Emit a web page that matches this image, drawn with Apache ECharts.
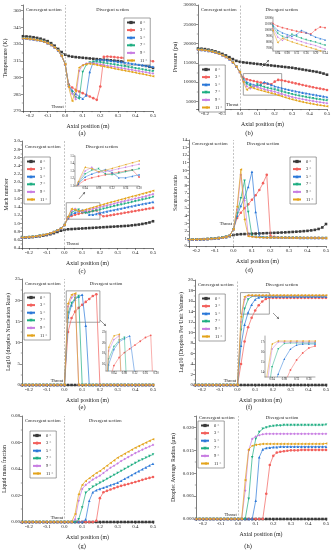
<!DOCTYPE html>
<html><head><meta charset="utf-8">
<script src="https://cdn.jsdelivr.net/npm/echarts@6/dist/echarts.min.js"></script>
<style>html,body{margin:0;padding:0;background:#fff}#c{width:333px;height:550px}</style>
</head><body><div id="c"></div>
<script>
const axialPosition = [-0.24,-0.22,-0.20,-0.18,-0.16,-0.14,-0.12,-0.10,-0.08,-0.06,-0.04,-0.02,0.00,0.02,0.04,0.06,0.08,0.10,0.12,0.14,0.16,0.18,0.20,0.22,0.24,0.26,0.28,0.30,0.32,0.34,0.36,0.38,0.40,0.42,0.44,0.46,0.48,0.50];
const seriesNames = ['0 °','3 °','5 °','7 °','9 °','11 °'];

// (a) Temperature (K)
const temperature0 = [337.0,336.8,336.5,336.1,335.5,334.8,333.8,332.6,330.8,328.5,325.6,322.8,320.5,319.3,318.7,318.3,318.0,317.7,317.4,317.1,316.8,316.5,316.2,316.0,315.7,315.4,315.1,314.8,314.4,314.0,313.5,313.0,312.5,311.9,311.2,310.4,309.6,308.6];
const temperature3 = [335.0,334.9,334.6,334.2,333.6,332.9,332.0,330.8,329.2,327.0,324.2,319.5,312.0,294.0,291.0,289.0,287.5,286.0,284.5,283.0,281.5,280.0,292.0,318.5,318.8,318.6,318.3,318.0,317.7,317.4,317.1,316.8,316.5,316.1,315.8,315.4,315.0,314.6];
const temperature5 = [335.0,334.9,334.6,334.2,333.6,332.9,332.0,330.8,329.2,327.0,324.2,319.5,312.0,293.0,288.5,285.5,283.0,281.0,284.0,305.0,314.0,315.5,316.0,315.8,315.4,315.0,314.6,314.2,313.8,313.4,313.0,312.5,312.1,311.6,311.1,310.6,310.1,309.6];
const temperature7 = [335.0,334.9,334.6,334.2,333.6,332.9,332.0,330.8,329.2,327.0,324.2,319.5,312.0,292.5,287.0,282.5,281.0,305.0,311.5,313.5,314.0,314.0,313.6,313.1,312.6,312.1,311.6,311.1,310.5,310.0,309.4,308.9,308.3,307.8,307.2,306.6,306.1,305.5];
const temperature9 = [335.0,334.9,334.6,334.2,333.6,332.9,332.0,330.8,329.2,327.0,324.2,319.5,312.0,292.0,285.5,280.5,306.0,311.0,312.5,313.0,312.8,312.3,311.8,311.2,310.6,310.1,309.6,309.0,308.5,308.0,307.4,306.9,306.3,305.8,305.2,304.7,304.1,303.6];
const temperature11 = [335.0,334.9,334.6,334.2,333.6,332.9,332.0,330.8,329.2,327.0,324.2,319.5,312.0,291.5,279.0,288.0,309.0,311.0,312.0,312.3,312.0,311.3,310.6,310.0,309.3,308.7,308.0,307.4,306.8,306.2,305.6,305.0,304.4,303.7,303.1,302.5,301.8,301.2];

// (b) Pressure (pa)
const pressure0 = [18700,18650,18550,18400,18200,17950,17650,17300,16900,16450,15950,15500,15250,15100,15000,14900,14800,14700,14600,14500,14400,14300,14200,14100,14000,13900,13800,13700,13550,13400,13250,13100,12950,12800,12650,12450,12200,11900];
const pressure3 = [18400,18350,18250,18100,17900,17650,17350,16950,16500,15900,15100,14000,12600,11100,10700,10450,10250,10050,9850,9700,9550,9400,10100,10550,10450,10250,10050,9850,9650,9450,9250,9050,8850,8650,8450,8300,8120,7950];
const pressure5 = [18400,18350,18250,18100,17900,17650,17350,16950,16500,15900,15100,14000,12600,10800,10000,9600,9300,9050,9300,10000,9650,9250,8900,8650,8420,8200,8000,7800,7610,7430,7250,7080,6910,6750,6590,6430,6270,6100];
const pressure7 = [18400,18350,18250,18100,17900,17650,17350,16950,16500,15900,15100,14000,12600,10600,9500,9000,8750,9350,9000,8700,8450,8250,8050,7800,7550,7300,7060,6830,6630,6440,6260,6080,5910,5760,5610,5470,5330,5200];
const pressure9 = [18400,18350,18250,18100,17900,17650,17350,16950,16500,15900,15100,14000,12600,10300,8900,8350,9000,8700,8400,8150,7900,7700,7500,7200,6920,6650,6380,6120,5920,5730,5550,5370,5200,5050,4910,4770,4630,4500];
const pressure11 = [18400,18350,18250,18100,17900,17650,17350,16950,16500,15900,15100,14000,12600,10000,8000,8700,8400,8100,7850,7600,7350,7120,6900,6600,6300,6020,5750,5500,5260,5040,4830,4640,4460,4290,4130,3980,3840,3700];

// (c) Mach number
const mach0 = [0.65,0.655,0.66,0.665,0.675,0.685,0.70,0.715,0.735,0.76,0.79,0.82,0.84,0.855,0.86,0.865,0.87,0.875,0.88,0.885,0.89,0.895,0.90,0.905,0.91,0.915,0.92,0.925,0.93,0.935,0.94,0.95,0.96,0.97,0.985,1.0,1.02,1.05];
const mach3 = [0.655,0.66,0.665,0.675,0.685,0.70,0.715,0.735,0.76,0.79,0.83,0.88,0.96,1.12,1.18,1.21,1.23,1.25,1.27,1.285,1.30,1.315,1.22,1.17,1.18,1.195,1.21,1.225,1.24,1.255,1.27,1.285,1.30,1.315,1.33,1.345,1.36,1.375];
const mach5 = [0.655,0.66,0.665,0.675,0.685,0.70,0.715,0.735,0.76,0.79,0.83,0.88,0.96,1.13,1.22,1.26,1.29,1.32,1.28,1.21,1.21,1.23,1.25,1.27,1.29,1.31,1.325,1.345,1.36,1.38,1.40,1.415,1.435,1.45,1.47,1.485,1.50,1.52];
const mach7 = [0.655,0.66,0.665,0.675,0.685,0.70,0.715,0.735,0.76,0.79,0.83,0.88,0.96,1.14,1.26,1.31,1.33,1.26,1.25,1.27,1.29,1.31,1.33,1.355,1.375,1.395,1.415,1.435,1.455,1.475,1.495,1.515,1.535,1.555,1.575,1.595,1.615,1.64];
const mach9 = [0.655,0.66,0.665,0.675,0.685,0.70,0.715,0.735,0.76,0.79,0.83,0.88,0.96,1.15,1.30,1.35,1.28,1.29,1.31,1.33,1.35,1.37,1.39,1.415,1.435,1.455,1.475,1.50,1.52,1.54,1.56,1.58,1.60,1.62,1.64,1.66,1.685,1.71];
const mach11 = [0.655,0.66,0.665,0.675,0.685,0.70,0.715,0.735,0.76,0.79,0.83,0.88,0.96,1.16,1.35,1.33,1.29,1.31,1.335,1.36,1.385,1.41,1.435,1.46,1.485,1.51,1.53,1.555,1.58,1.60,1.625,1.65,1.67,1.695,1.72,1.74,1.765,1.79];

// (d) Saturation ratio
const saturation0 = [0.85,0.86,0.87,0.88,0.90,0.92,0.95,0.99,1.04,1.10,1.18,1.30,1.45,1.52,1.56,1.58,1.60,1.62,1.64,1.66,1.68,1.70,1.72,1.74,1.76,1.78,1.80,1.83,1.86,1.89,1.92,1.96,2.00,2.06,2.13,2.25,2.45,2.90];
const saturation3 = [0.85,0.86,0.87,0.88,0.90,0.92,0.95,0.99,1.04,1.10,1.20,1.40,2.20,3.7,4.4,5.0,5.5,6.1,6.7,7.4,8.3,9.4,1.35,1.20,1.15,1.13,1.12,1.11,1.10,1.10,1.09,1.09,1.08,1.08,1.07,1.07,1.06,1.06];
const saturation5 = [0.85,0.86,0.87,0.88,0.90,0.92,0.95,0.99,1.04,1.10,1.20,1.40,2.20,4.0,5.3,6.4,7.8,9.8,4.5,1.30,1.20,1.15,1.12,1.11,1.10,1.10,1.09,1.09,1.08,1.08,1.07,1.07,1.07,1.06,1.06,1.06,1.05,1.05];
const saturation7 = [0.85,0.86,0.87,0.88,0.90,0.92,0.95,0.99,1.04,1.10,1.20,1.40,2.20,4.3,6.3,8.6,4.5,1.30,1.20,1.15,1.12,1.11,1.10,1.10,1.09,1.09,1.08,1.08,1.07,1.07,1.07,1.06,1.06,1.06,1.05,1.05,1.05,1.04];
const saturation9 = [0.85,0.86,0.87,0.88,0.90,0.92,0.95,0.99,1.04,1.10,1.20,1.40,2.20,4.8,9.4,6.0,1.4,1.25,1.18,1.14,1.12,1.11,1.10,1.10,1.09,1.09,1.08,1.08,1.07,1.07,1.07,1.06,1.06,1.06,1.05,1.05,1.05,1.04];
const saturation11 = [0.85,0.86,0.87,0.88,0.90,0.92,0.95,0.99,1.04,1.10,1.20,1.40,2.20,5.2,10.1,3.5,1.3,1.22,1.16,1.13,1.11,1.10,1.10,1.09,1.09,1.08,1.08,1.07,1.07,1.07,1.06,1.06,1.06,1.05,1.05,1.05,1.04,1.04];

// (e) Log10 (droplets nucleation rate)
const nucleation0 = [0,0,0,0,0,0,0,0,0,0, 0,0,0,0,0,0,0,0,0,0, 0,0,0,0,0,0,0,0,0,0, 0,0,0,0,0,0,0,0];
const nucleation3 = [0,0,0,0,0,0,0,0,0,0, 0,0,0,12.5,15.8,17.3,18.2,18.9,19.6,20.3, 21.0,21.4,0,0,0,0,0,0,0,0, 0,0,0,0,0,0,0,0];
const nucleation5 = [0,0,0,0,0,0,0,0,0,0, 0,0,0,16.0,18.8,20.2,20.8,21.3,14.0,0, 0,0,0,0,0,0,0,0,0,0, 0,0,0,0,0,0,0,0];
const nucleation7 = [0,0,0,0,0,0,0,0,0,0, 0,0,0,17.0,19.3,20.5,21.0,0,0,0, 0,0,0,0,0,0,0,0,0,0, 0,0,0,0,0,0,0,0];
const nucleation9 = [0,0,0,0,0,0,0,0,0,0, 0,0,0,18.5,20.6,21.3,0,0,0,0, 0,0,0,0,0,0,0,0,0,0, 0,0,0,0,0,0,0,0];
const nucleation11 = [0,0,0,0,0,0,0,0,0,0, 0,0,0,19.2,21.3,21.6,0,0,0,0, 0,0,0,0,0,0,0,0,0,0, 0,0,0,0,0,0,0,0];

// (f) Log10 (droplets per unit volume)
const density0 = [0,0,0,0,0,0,0,0,0,0, 0,0,0,0,0,0,0,0,0,0, 0,0,0,0,0,0,0,0,0,0, 0,0,0,0,0,0,0,0];
const density3 = [0,0,0,0,0,0,0,0,0,0, 0,0,0,4.0,8.3,11.0,12.8,14.2,15.2,15.9, 16.4,16.6,16.6,16.6,16.6,16.6,16.6,16.6,16.6,16.6, 16.6,16.6,16.6,16.6,16.6,16.6,16.6,16.6];
const density5 = [0,0,0,0,0,0,0,0,0,0, 0,0,0,7.5,11.5,13.8,15.3,16.3,16.7,16.8, 16.8,16.8,16.8,16.8,16.8,16.8,16.8,16.8,16.8,16.8, 16.8,16.8,16.8,16.8,16.8,16.8,16.8,16.8];
const density7 = [0,0,0,0,0,0,0,0,0,0, 0,0,0,10.5,14.5,16.3,16.85,16.9,16.9,16.9, 16.9,16.9,16.9,16.9,16.9,16.9,16.9,16.9,16.9,16.9, 16.9,16.9,16.9,16.9,16.9,16.9,16.9,16.9];
const density9 = [0,0,0,0,0,0,0,0,0,0, 0,0,0,12.0,16.3,17.0,17.0,17.0,17.0,17.0, 17.0,17.0,17.0,17.0,17.0,17.0,17.0,17.0,17.0,17.0, 17.0,17.0,17.0,17.0,17.0,17.0,17.0,17.0];
const density11 = [0,0,0,0,0,0,0,0,0,0, 0,0,0,13.0,16.8,17.1,17.1,17.1,17.1,17.1, 17.1,17.1,17.1,17.1,17.1,17.1,17.1,17.1,17.1,17.1, 17.1,17.1,17.1,17.1,17.1,17.1,17.1,17.1];

// (g) Liquid mass fraction
const liquid0 = [0,0,0,0,0,0,0,0,0,0, 0,0,0,0,0,0,0,0,0,0, 0,0,0,0,0,0,0,0,0,0, 0,0,0,0,0,0,0,0];
const liquid3 = [0,0,0,0,0,0,0,0,0,0, 0,0,0,0,0,0,0,0,0,0, 0,0.001,0.018,0.0225,0.0235,0.0245,0.0255,0.0265,0.0273,0.028, 0.0287,0.0294,0.0302,0.031,0.0318,0.0326,0.0333,0.034];
const liquid5 = [0,0,0,0,0,0,0,0,0,0, 0,0,0,0,0,0,0,0,0.002,0.016, 0.0225,0.024,0.025,0.0259,0.0268,0.0278,0.0287,0.0297,0.0311,0.0326, 0.034,0.0355,0.037,0.0384,0.0398,0.0412,0.0426,0.044];
const liquid7 = [0,0,0,0,0,0,0,0,0,0, 0,0,0,0,0,0,0.002,0.011,0.022,0.0245, 0.0265,0.028,0.0295,0.031,0.0325,0.034,0.0355,0.037,0.0385,0.040, 0.0415,0.043,0.0445,0.046,0.0472,0.0485,0.0497,0.051];
const liquid9 = [0,0,0,0,0,0,0,0,0,0, 0,0,0,0,0,0.002,0.016,0.025,0.028,0.030, 0.032,0.0335,0.035,0.037,0.039,0.041,0.0425,0.0442,0.046,0.0475, 0.049,0.0505,0.052,0.0533,0.0546,0.0558,0.057,0.0582];
const liquid11 = [0,0,0,0,0,0,0,0,0,0, 0,0,0,0,0,0.006,0.021,0.028,0.031,0.033, 0.035,0.037,0.0385,0.0405,0.0425,0.0445,0.0465,0.0485,0.050,0.0515, 0.053,0.0545,0.056,0.0573,0.0586,0.0599,0.0612,0.0625];

// (h) Droplet average radius (um)
const radius0 = [0,0,0,0,0,0,0,0,0,0, 0,0,0,0,0,0,0,0,0,0, 0,0,0,0,0,0,0,0,0,0, 0,0,0,0,0,0,0,0];
const radius3 = [0,0,0,0,0,0,0,0,0,0, 0,0,0,0,0,0,0,0,0,0, 0.0055,0.0118,0.0138,0.0145,0.0147,0.0148,0.0149,0.0150,0.0150,0.0150, 0.0151,0.0151,0.0151,0.0151,0.0151,0.0151,0.0151,0.0151];
const radius5 = [0,0,0,0,0,0,0,0,0,0, 0,0,0,0,0,0,0,0.0040,0.0135,0.0152, 0.0155,0.0156,0.0157,0.0157,0.0158,0.0158,0.0158,0.0158,0.0158,0.0158, 0.0158,0.0158,0.0158,0.0158,0.0158,0.0158,0.0158,0.0158];
const radius7 = [0,0,0,0,0,0,0,0,0,0, 0,0,0,0,0,0.0044,0.0135,0.0175,0.0190,0.0197, 0.0200,0.0202,0.0203,0.0204,0.0204,0.0205,0.0205,0.0205,0.0205,0.0205, 0.0205,0.0205,0.0205,0.0205,0.0205,0.0205,0.0205,0.0206];
const radius9 = [0,0,0,0,0,0,0,0,0,0, 0,0,0,0,0.0062,0.0150,0.0175,0.0180,0.0183,0.0185, 0.0186,0.0186,0.0186,0.0186,0.0186,0.0186,0.0186,0.0186,0.0186,0.0186, 0.0186,0.0186,0.0186,0.0186,0.0186,0.0186,0.0186,0.0186];
const radius11 = [0,0,0,0,0,0,0,0,0,0, 0,0,0,0,0.0085,0.0152,0.0160,0.0162,0.0163,0.0164, 0.0164,0.0164,0.0164,0.0164,0.0164,0.0164,0.0164,0.0164,0.0164,0.0164, 0.0164,0.0164,0.0164,0.0164,0.0164,0.0164,0.0164,0.0165];

// ---------- layout / style ----------
const F = '"Liberation Serif","Times New Roman",serif';
const colors = ['#3a3a3a','#f2605c','#2b78d8','#1fae82','#c87ee2','#e3a31b'];
const symbols = ['rect','circle','triangle','triangle','diamond','triangle'];
const rotates = [0,0,0,180,0,90];

const panels = [
  {series:[temperature0,temperature3,temperature5,temperature7,temperature9,temperature11], grid:[23,5,130,106], y:[270,365,15,0], yName:'Temperature (K)', yGap:15, legend:[124,18], tag:'(a)', tagPos:[82,133], divX:0.27, throat:'left', secDy:2},
  {series:[pressure0,pressure3,pressure5,pressure7,pressure9,pressure11], grid:[198,5,129,104], y:[3000,30000,5000,0], yName:'Pressure (pa)', yGap:20, legend:[199,65], tag:'(b)', tagPos:[249,133], divX:0.24, throat:'left', secDy:2},
  {series:[mach0,mach3,mach5,mach7,mach9,mach11], grid:[22,141,131,107], y:[0.4,3.0,0.2,1], yName:'Mach number', yGap:12, legend:[24,157], tag:'(c)', tagPos:[82,271], divX:0.21, throat:'right', secDy:3},
  {series:[saturation0,saturation3,saturation5,saturation7,saturation9,saturation11], grid:[189,140,137,106], y:[0,14,1,0], yName:'Saturation ratio', yGap:9, legend:[290,157], tag:'(d)', tagPos:[249,270], divX:0.16, throat:'left', throatY:2.6, secDy:1},
  {series:[nucleation0,nucleation3,nucleation5,nucleation7,nucleation9,nucleation11], grid:[22,279,131,106], y:[0,25,5,0], yName:'Log10 (droplets Nucleation Rate)', yGap:9, legend:[24,293], tag:'(e)', tagPos:[82,407], divX:0.235, throat:'left', secDy:2},
  {series:[density0,density3,density5,density7,density9,density11], grid:[195,280,131,105], y:[0,20,2,0], yName:'Log10 (Droplets Per Unit Volume)', yGap:11, legend:[199,294], tag:'(f)', tagPos:[249,407], divX:0.25, throat:'left', secDy:2},
  {series:[liquid0,liquid3,liquid5,liquid7,liquid9,liquid11], grid:[22,416,131,106], y:[0,0.08,0.02,2], yName:'Liquid mass fraction', yGap:12, legend:[30,431], tag:'(g)', tagPos:[82,546], divX:0.23, throat:'left', secDy:2},
  {series:[radius0,radius3,radius5,radius7,radius9,radius11], grid:[196,416,130,103], y:[0,0.0225,0.005,3], yName:'Droplet Average Radius (μm)', yGap:20, legend:[198,421], tag:'(h)', tagPos:[248,546], divX:0.25, throat:'left', secDy:-1}
];
const insets = [
  {panel:1, grid:[273,17,52,34], x:[0.02,0.24,0.04,2], y:[6600,12200,1000,0], arrow:[262,67,269,60]},
  {panel:2, grid:[75,156,64,30], x:[0.01,0.2,0.04,2], y:[1.1,1.5,0.1,1], arrow:[79,199,85,192]},
  {panel:4, grid:[106,331,50,40], x:[0.01,0.2,0.04,2], y:[14.8,22.2,2,0], arrow:[100,320,106,326]},
  {panel:5, grid:[265,336,50,41], x:[0.017,0.18,0.04,2], y:[13.5,17.6,1,0], arrow:[273,313,279,319]}
];

function aligned(v, step){ const r = v/step; return Math.abs(r - Math.round(r)) < 1e-6; }
function valAxis(gi, min, max, step, dec, fs, name, gap, small){
  return {
    type:'value', gridIndex:gi, min, max, minInterval:step, maxInterval:step,
    splitNumber: Math.max(1, Math.round((max-min)/step)),
    axisLine:{show:true, onZero:false, lineStyle:{color:'#222', width:small?0.4:0.6}},
    axisTick:{show:true, length:small?1:2, lineStyle:{color:'#222', width:small?0.4:0.5}},
    minorTick:{show:!small, splitNumber:2, length:1.2, lineStyle:{color:'#222', width:0.4}},
    splitLine:{show:false},
    axisLabel:{fontSize:fs, fontFamily:F, color:'#222', margin:small?1:2,
      showMinLabel:aligned(min,step), showMaxLabel:aligned(max,step),
      formatter:v=>v.toFixed(dec)},
    name:name||'', nameLocation:'middle', nameGap:gap||0,
    nameTextStyle:{fontSize:5.8, fontFamily:F, color:'#222'}
  };
}

const grids=[], xAxes=[], yAxes=[], series=[], legends=[];
panels.forEach((p,i)=>{
  grids.push({left:p.grid[0], top:p.grid[1], width:p.grid[2], height:p.grid[3], outerBoundsMode:'none', containLabel:false});
  xAxes.push(valAxis(i,-0.24,0.5,0.1,1,5,'Axial position (m)',12,false));
  yAxes.push(valAxis(i,p.y[0],p.y[1],p.y[2],p.y[3],5,p.yName,p.yGap,false));
  legends.push({data:seriesNames, orient:'vertical', left:p.legend[0], top:p.legend[1],
    itemWidth:8, itemHeight:4, itemGap:2.6, padding:[2,3,2,2], selectedMode:false,
    borderColor:'#444', borderWidth:0.5, backgroundColor:'#fff',
    textStyle:{fontSize:4.5, fontFamily:F, color:'#222'}});
  p.series.forEach((arr,j)=>{
    const s = {type:'line', name:seriesNames[j], xAxisIndex:i, yAxisIndex:i,
      data:axialPosition.map((x,k)=>[x, arr[k]]),
      symbol:symbols[j], symbolRotate:rotates[j], symbolSize:2.6, showSymbol:true,
      lineStyle:{width:0.7, color:colors[j]}, itemStyle:{color:colors[j]},
      animation:false, silent:true, z:2+j};
    if(j===0){
      s.markLine = {silent:true, symbol:'none', label:{show:false}, animation:false,
        lineStyle:{type:[2,1.5], color:'#999', width:0.6}, data:[{xAxis:0}]};
      const ins = insets.find(t=>t.panel===i);
      if(ins){
        s.markArea = {silent:true, animation:false,
          itemStyle:{color:'rgba(0,0,0,0)', borderColor:'#8a8a8a', borderWidth:0.8},
          data:[[{xAxis:ins.x[0], yAxis:ins.y[0]},{xAxis:ins.x[1], yAxis:ins.y[1]}]]};
      }
    }
    series.push(s);
  });
});
insets.forEach((ins,n)=>{
  const gi = panels.length + n;
  grids.push({left:ins.grid[0], top:ins.grid[1], width:ins.grid[2], height:ins.grid[3], outerBoundsMode:'none', containLabel:false, backgroundColor:'#fff', show:true, borderWidth:0});
  xAxes.push(valAxis(gi, ins.x[0], ins.x[1], ins.x[2], ins.x[3], 3, '', 0, true));
  yAxes.push(valAxis(gi, ins.y[0], ins.y[1], ins.y[2], ins.y[3], 3, '', 0, true));
  panels[ins.panel].series.forEach((arr,j)=>{
    series.push({type:'line', name:seriesNames[j], xAxisIndex:gi, yAxisIndex:gi,
      data:axialPosition.map((x,k)=>[x, arr[k]]),
      symbol:symbols[j], symbolRotate:rotates[j], symbolSize:1.8, showSymbol:true, clip:true,
      lineStyle:{width:0.5, color:colors[j]}, itemStyle:{color:colors[j]},
      animation:false, silent:true, z:10+j});
  });
});

const chart = echarts.init(document.getElementById('c'), null, {renderer:'canvas'});
chart.setOption({
  animation:false, backgroundColor:'#fff', textStyle:{fontFamily:F},
  grid:grids, xAxis:xAxes, yAxis:yAxes, series, legend:legends
});

const g = [];
function txt(x,y,text,fs,align,va){
  g.push({type:'text', x, y, silent:true, z:100,
    style:{text, fontSize:fs, fontFamily:F, fill:'#222', align, verticalAlign:va}});
}
panels.forEach((p,i)=>{
  const [gl,gt,gw,gh] = p.grid;
  txt(gl+3, gt+p.secDy, 'Convergent section', 4.6, 'left', 'top');
  const dx = chart.convertToPixel({xAxisIndex:i}, p.divX);
  txt(dx, gt+p.secDy, 'Divergent section', 4.6, 'center', 'top');
  const x0 = chart.convertToPixel({xAxisIndex:i}, 0);
  const ty = p.throatY!=null ? chart.convertToPixel({yAxisIndex:i}, p.throatY) : gt+gh-1.5;
  if(p.throat==='right') txt(x0+2, ty, 'Throat', 4.6, 'left', 'bottom');
  else txt(x0-1.5, ty, 'Throat', 4.6, 'right', 'bottom');
  txt(p.tagPos[0], p.tagPos[1], p.tag, 6.5, 'center', 'middle');
});
insets.forEach(ins=>{
  const [x1,y1,x2,y2] = ins.arrow;
  g.push({type:'line', silent:true, z:100, shape:{x1,y1,x2,y2}, style:{stroke:'#555', lineWidth:0.6}});
  const a = Math.atan2(y2-y1, x2-x1), L=2.2, W=1.2;
  const bx = x2 - L*Math.cos(a), by = y2 - L*Math.sin(a);
  g.push({type:'polygon', silent:true, z:100, shape:{points:[[x2,y2],[bx - W*Math.sin(a), by + W*Math.cos(a)],[bx + W*Math.sin(a), by - W*Math.cos(a)]]}, style:{fill:'#555'}});
});
chart.setOption({graphic:g});
</script>
</body></html>
